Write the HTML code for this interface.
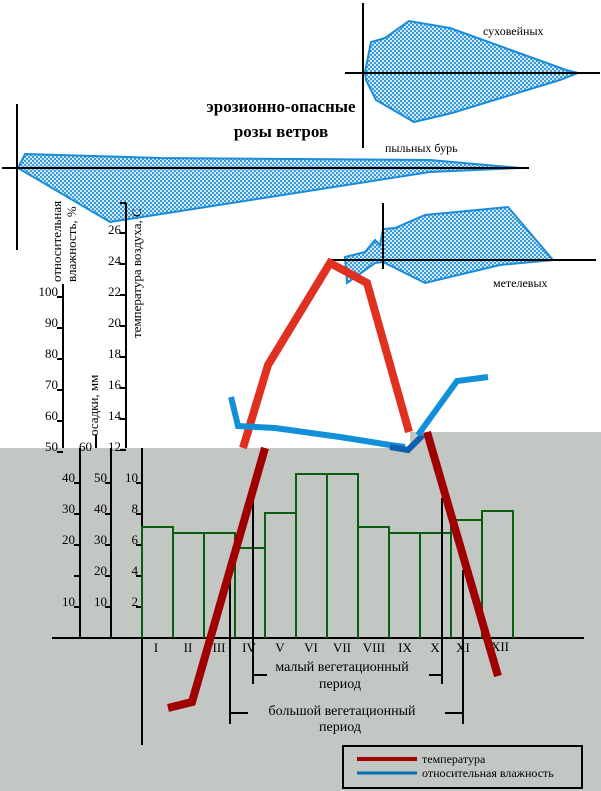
<!DOCTYPE html>
<html><head><meta charset="utf-8"><style>
html,body{margin:0;padding:0;background:#fff;width:601px;height:791px;overflow:hidden}
svg{display:block}
text{font-family:"Liberation Serif","DejaVu Serif",serif;fill:#000}
</style></head><body>
<svg width="601" height="791" viewBox="0 0 601 791" xmlns="http://www.w3.org/2000/svg">
<defs>
<pattern id="h" width="4" height="4" patternUnits="userSpaceOnUse">
<rect width="4" height="4" fill="#cfe8f6"/>
<rect width="2" height="2" fill="#3a9bd8"/>
<rect x="2" y="2" width="2" height="2" fill="#3a9bd8"/>
</pattern>
</defs>
<rect x="0" y="448" width="601" height="343" fill="#c3c7c4"/>
<rect x="410" y="432" width="191" height="16" fill="#c3c7c4"/>

<g stroke="#1a8cd8" stroke-width="2" fill="url(#h)">
<polygon points="365,72 371,42 385,38 409,21 450,28 566,70 578,73 560,80 452,113 414,122 376,100 366,80"/>
<polygon points="18,168 25,154 160,158 430,160 520,168 430,172 110,222"/>
<polygon points="383,260 383,229 395,228 425,215 508,207 553,260 500,265 425,283 383,262 375,263 347,283 345,257 365,252 375,240 380,245 383,229"/>
</g>
<g stroke="#000" stroke-width="2">
<line x1="363" y1="3" x2="363" y2="148"/><line x1="345" y1="73" x2="600" y2="73"/>
<line x1="17" y1="104" x2="17" y2="250"/><line x1="2" y1="168" x2="529" y2="168"/>
<line x1="383" y1="203" x2="383" y2="269"/><line x1="330" y1="260" x2="596" y2="260"/>
</g>
<text x="483" y="35" font-size="12">суховейных</text>
<text x="385" y="152" font-size="12">пыльных бурь</text>
<text x="493" y="287" font-size="12">метелевых</text>
<text x="281" y="112" font-size="17" font-weight="bold" text-anchor="middle">эрозионно-опасные</text>
<text x="281" y="137" font-size="17" font-weight="bold" text-anchor="middle">розы ветров</text>

<text transform="translate(61,282) rotate(-90)" font-size="13">относительная</text>
<text transform="translate(76,282) rotate(-90)" font-size="13">влажность, %</text>
<text transform="translate(98,436) rotate(-90)" font-size="13">осадки, мм</text>
<text transform="translate(141,338) rotate(-90)" font-size="13">температура воздуха, С</text>

<g stroke="#000" stroke-width="2">
<line x1="63" y1="284" x2="63" y2="448"/>
<line x1="96" y1="435" x2="96" y2="448"/>
<line x1="126" y1="203" x2="126" y2="448"/>
<line x1="80" y1="448" x2="80" y2="638"/>
<line x1="111" y1="448" x2="111" y2="638"/>
<line x1="142" y1="448" x2="142" y2="745"/>
<line x1="52" y1="638" x2="584" y2="638"/>
</g>
<g stroke="#000" stroke-width="2">
<path d="M57 297h6M57 328h6M57 359h6M57 390h6M57 421h6M57 452h6"/>
<path d="M120 203h6M120 233h6M120 264h6M120 295h6M120 326h6M120 357h6M120 388h6M120 419h6M120 450h6"/>
<path d="M74 483h6M74 514h6M74 545h6M74 576h6M74 607h6"/>
<path d="M105 483h6M105 514h6M105 545h6M105 576h6M105 607h6"/>
<path d="M136 483h6M136 514h6M136 545h6M136 576h6M136 607h6"/>
</g>
<g font-size="13" text-anchor="end">
<text x="58" y="296">100</text><text x="58" y="327">90</text><text x="58" y="358">80</text><text x="58" y="389">70</text><text x="58" y="420">60</text><text x="58" y="451">50</text>
<text x="92" y="451">60</text>
<text x="121" y="234">26</text><text x="121" y="265">24</text><text x="121" y="296">22</text><text x="121" y="327">20</text><text x="121" y="358">18</text><text x="121" y="389">16</text><text x="121" y="420">14</text><text x="121" y="451">12</text>
<text x="75" y="482">40</text><text x="75" y="513">30</text><text x="75" y="544">20</text><text x="75" y="606">10</text>
<text x="107" y="482">50</text><text x="107" y="513">40</text><text x="107" y="544">30</text><text x="107" y="575">20</text><text x="107" y="606">10</text>
<text x="138" y="482">10</text><text x="138" y="513">8</text><text x="138" y="544">6</text><text x="138" y="575">4</text><text x="138" y="606">2</text>
</g>

<g fill="none" stroke="#0a5c10" stroke-width="2">
<path d="M142 638V527H173V638"/><path d="M173 638V533H204V638"/><path d="M204 638V533H235V638"/>
<path d="M235 638V548H265V638" /><path d="M265 638V513H296V638"/><path d="M296 638V474H327V638"/>
<path d="M327 638V474H358V638"/><path d="M358 638V527H389V638"/><path d="M389 638V533H420V638"/>
<path d="M420 638V533H451V638"/><path d="M451 638V520H482V638"/><path d="M482 638V511H513V638"/>
</g>
<g font-size="13" text-anchor="middle">
<text x="156" y="652">I</text><text x="188" y="652">II</text><text x="219" y="652">III</text><text x="249" y="652">IV</text><text x="280" y="652">V</text><text x="311" y="652">VI</text><text x="342" y="652">VII</text><text x="374" y="652">VIII</text><text x="405" y="652">IX</text><text x="435" y="652">X</text><text x="463" y="652">XI</text><text x="500" y="651">XII</text>
</g>

<g stroke="#000" stroke-width="2" fill="none">
<path d="M230 560V724M230 713H248"/>
<path d="M253 496V684M253 675H267"/>
<path d="M442 498V684M429 675H442"/>
<path d="M463 570V724M445 713H463"/>
</g>
<g font-size="14" text-anchor="middle">
<text x="342" y="671">малый вегетационный</text><text x="340" y="688">период</text>
<text x="342" y="715">большой вегетационный</text><text x="340" y="731">период</text>
</g>

<g fill="none" stroke-width="8" stroke-linejoin="miter">
<polyline stroke="#a00000" points="168,708 192,702 265,448"/>
<polyline stroke="#e03020" points="243,448 268,365 330,263 367,283 409,432"/>
<polyline stroke="#a00000" points="427,432 498,676"/>
</g>
<g fill="none" stroke-width="6">
<polyline stroke="#1090d8" points="231,397 238,426 275,428 340,437 390,445 405,447"/>
<polyline stroke="#1060b0" points="390,447 408,450 423,435"/>
<polyline stroke="#1090d8" points="418,435 457,381 488,377"/>
</g>

<rect x="343" y="746" width="239" height="42" fill="none" stroke="#000" stroke-width="2"/>
<line x1="357" y1="759" x2="417" y2="759" stroke="#a00000" stroke-width="4"/>
<line x1="357" y1="773" x2="417" y2="773" stroke="#0070b0" stroke-width="3"/>
<text x="422" y="763" font-size="12">температура</text>
<text x="422" y="777" font-size="12">относительная влажность</text>
</svg>
</body></html>
